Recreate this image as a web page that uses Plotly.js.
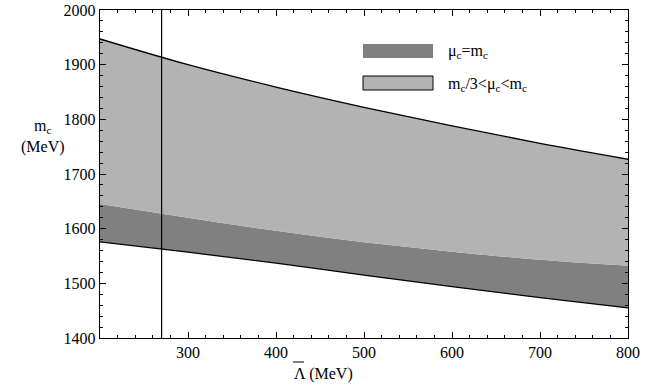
<!DOCTYPE html>
<html>
<head>
<meta charset="utf-8">
<script src="https://cdn.plot.ly/plotly-3.0.1.min.js"></script>
<style>
  body { margin: 0; background: #fff; }
  #plot { width: 658px; height: 387px; }
</style>
</head>
<body>
<div id="plot"></div>
<script>
// Lambda-bar values (MeV) along the x axis
var lambdaBar = [200, 300, 400, 500, 600, 700, 800];

// m_c band edges (MeV)
var mcLower  = [1576, 1557, 1537, 1515, 1494, 1474, 1455];   // mu_c = m_c, lower edge
var mcMiddle = [1645, 1620, 1596, 1575, 1558, 1543, 1532];   // mu_c = m_c, upper edge
var mcUpper  = [1947, 1900, 1859, 1822, 1788, 1756, 1727];   // m_c/3 < mu_c < m_c, upper edge

// vertical reference line
var lambdaRef = [270, 270];
var lambdaRefY = [1400, 2000];

var darkGrey = '#808080';
var lightGrey = '#b3b3b3';
var serif = '"Times New Roman", "Liberation Serif", "DejaVu Serif", serif';

var traces = [
  {
    x: lambdaBar, y: mcLower, mode: 'lines', type: 'scatter',
    line: {color: '#000', width: 1.3, shape: 'spline'},
    showlegend: false, hoverinfo: 'skip'
  },
  {
    x: lambdaBar, y: mcMiddle, mode: 'lines', type: 'scatter',
    fill: 'tonexty', fillcolor: darkGrey,
    line: {color: darkGrey, width: 0, shape: 'spline'},
    showlegend: false, hoverinfo: 'skip'
  },
  {
    x: lambdaBar, y: mcUpper, mode: 'lines', type: 'scatter',
    fill: 'tonexty', fillcolor: lightGrey,
    line: {color: '#000', width: 1.3, shape: 'spline'},
    showlegend: false, hoverinfo: 'skip'
  },
  {
    x: lambdaRef, y: lambdaRefY, mode: 'lines', type: 'scatter',
    line: {color: '#000', width: 1.2},
    showlegend: false, hoverinfo: 'skip'
  }
];

var axisCommon = {
  showline: true, linecolor: '#000', linewidth: 1.2,
  mirror: 'ticks', ticks: 'inside', ticklen: 6, tickcolor: '#000', tickwidth: 1,
  showgrid: false, zeroline: false,
  tickfont: {family: serif, size: 16, color: '#000'}
};

var textFont = {family: serif, size: 16, color: '#000'};

var layout = {
  width: 658, height: 387,
  margin: {l: 100, r: 30, t: 10, b: 49},
  paper_bgcolor: '#fff', plot_bgcolor: '#fff',
  font: {family: serif},
  showlegend: false,
  xaxis: Object.assign({}, axisCommon, {
    range: [200, 800],
    tickvals: [300, 400, 500, 600, 700, 800],
    minor: {ticks: 'inside', ticklen: 3, dtick: 20, tick0: 200, tickcolor: '#000'}
  }),
  yaxis: Object.assign({}, axisCommon, {
    range: [1400, 2000],
    tickvals: [1400, 1500, 1600, 1700, 1800, 1900, 2000],
    minor: {ticks: 'inside', ticklen: 3, dtick: 20, tick0: 1400, tickcolor: '#000'}
  }),
  shapes: [
    // legend swatches
    {type: 'rect', xref: 'paper', yref: 'paper',
     x0: (363 - 100) / 528, x1: (433 - 100) / 528,
     y0: (338 - 58) / 328, y1: (338 - 44) / 328,
     fillcolor: darkGrey, line: {width: 0}},
    {type: 'rect', xref: 'paper', yref: 'paper',
     x0: (363 - 100) / 528, x1: (433 - 100) / 528,
     y0: (338 - 90) / 328, y1: (338 - 76) / 328,
     fillcolor: lightGrey, line: {color: '#000', width: 1}},
    // bar over the Lambda of the x title
    {type: 'line', xref: 'paper', yref: 'paper',
     x0: (293 - 100) / 528, x1: (304 - 100) / 528,
     y0: (338 - 362) / 328, y1: (338 - 362) / 328,
     line: {color: '#000', width: 1}}
  ],
  annotations: [
    {xref: 'paper', yref: 'paper', x: (446 - 100) / 528, y: (338 - 51) / 328,
     xanchor: 'left', yanchor: 'middle', showarrow: false,
     text: 'μ<sub>c</sub>=m<sub>c</sub>', font: textFont},
    {xref: 'paper', yref: 'paper', x: (446 - 100) / 528, y: (338 - 84) / 328,
     xanchor: 'left', yanchor: 'middle', showarrow: false,
     text: 'm<sub>c</sub>/3&lt;μ<sub>c</sub>&lt;m<sub>c</sub>', font: textFont},
    {xref: 'paper', yref: 'paper', x: (43 - 100) / 528, y: (338 - 136) / 328,
     xanchor: 'center', yanchor: 'middle', showarrow: false, align: 'center',
     text: 'm<sub>c</sub><br>(MeV)', font: textFont},
    {xref: 'paper', yref: 'paper', x: (292 - 100) / 528, y: (338 - 374) / 328,
     xanchor: 'left', yanchor: 'middle', showarrow: false,
     text: 'Λ (MeV)', font: textFont}
  ]
};

Plotly.newPlot('plot', traces, layout, {displayModeBar: false, staticPlot: true});
</script>
</body>
</html>
